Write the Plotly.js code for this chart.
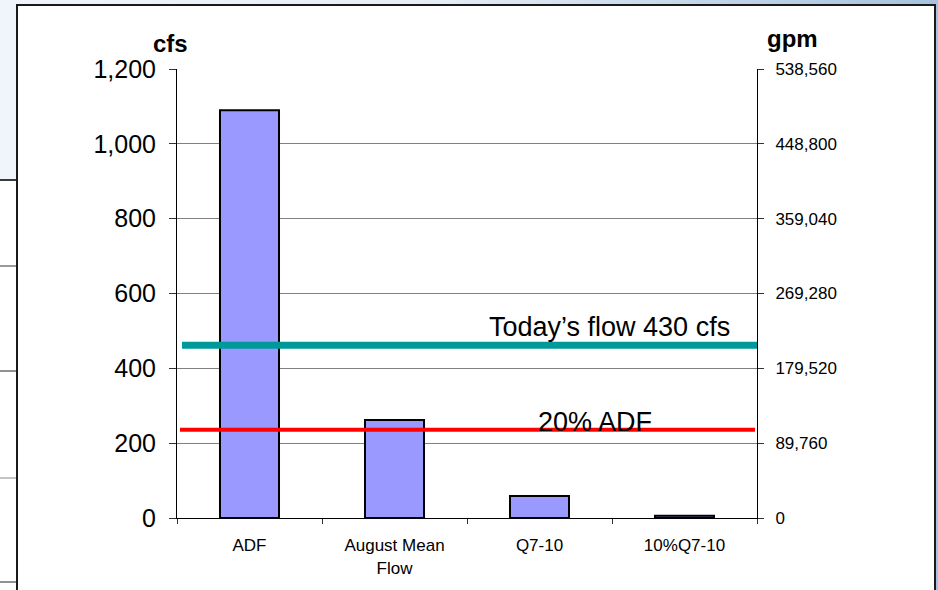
<!DOCTYPE html>
<html>
<head>
<meta charset="utf-8">
<script src="https://cdn.plot.ly/plotly-3.0.1.min.js"></script>
<style>
  html, body { margin: 0; padding: 0; }
  #chart { width: 938px; height: 590px;
    background: linear-gradient(90deg, #f1f5fb 0%, #e6edf5 45%, #c3d6e9 75%, #a6c2dd 100%); }
</style>
</head>
<body>
<div id="chart"></div>
<script>
// ---- data ----
const categories = ["ADF", "August Mean<br>Flow", "Q7-10", "10%Q7-10"];
const flowCfs = [1090, 262, 59, 6];
const todayFlowCfs = 462;      // drawn level of "Today's flow" line
const twentyPctAdfCfs = 236;   // drawn level of "20% ADF" line
const leftTicks = [0, 200, 400, 600, 800, 1000, 1200];
const rightTicks = [0, 89760, 179520, 269280, 359040, 448800, 538560];
const todayLabel = "Today\u2019s flow 430 cfs";
const adfLabel = "20% ADF";

// ---- layout geometry (pixels) ----
const W = 938, H = 590;
const PL = 177, PR = 757, PT = 69, PB = 518;
const px = v => (v - PL) / (PR - PL);
const py = v => (PB - v) / (PB - PT);

const font = "Liberation Sans, Arial, sans-serif";

const traces = [{
  type: "bar",
  x: categories,
  y: flowCfs,
  marker: { color: "#9999ff", line: { color: "#000000", width: 2 } },
  hoverinfo: "skip",
  showlegend: false
}, {
  type: "scatter", mode: "markers",
  x: [categories[0]], y: [0], yaxis: "y2",
  marker: { opacity: 0 }, hoverinfo: "skip", showlegend: false
}];

const leftStripLines = [
  { y: 180, c: "#3a3a3a", w: 2 },
  { y: 266, c: "#9a9a9a", w: 2 },
  { y: 371, c: "#222222", w: 1 },
  { y: 478, c: "#8a8a8a", w: 1 },
  { y: 582, c: "#222222", w: 1 }
];

const shapes = [
  // white slide panel
  { type: "rect", xref: "paper", yref: "paper", layer: "below",
    x0: px(17), x1: px(935), y0: py(600), y1: py(5),
    fillcolor: "#ffffff", line: { color: "#1a1a1a", width: 2 } },
  // white left strip
  { type: "rect", xref: "paper", yref: "paper", layer: "below",
    x0: px(-2), x1: px(16), y0: py(600), y1: py(180),
    fillcolor: "#ffffff", line: { width: 0 } },
  ...leftStripLines.map(l => ({
    type: "line", xref: "paper", yref: "paper", layer: "below",
    x0: px(0), x1: px(16), y0: py(l.y), y1: py(l.y),
    line: { color: l.c, width: l.w } })),
  // reference lines
  { type: "line", xref: "paper", yref: "y", x0: px(182), x1: px(757),
    y0: todayFlowCfs, y1: todayFlowCfs, line: { color: "#009999", width: 7 } },
  { type: "line", xref: "paper", yref: "y", x0: px(180), x1: px(755),
    y0: twentyPctAdfCfs, y1: twentyPctAdfCfs, line: { color: "#ff0000", width: 4 } }
];

const annotations = [
  { xref: "paper", yref: "y", x: px(609), y: todayFlowCfs, yanchor: "bottom",
    xanchor: "center", yshift: 1, showarrow: false, text: todayLabel,
    font: { family: font, size: 27, color: "#000" } },
  { xref: "paper", yref: "y", x: px(595), y: twentyPctAdfCfs, yanchor: "bottom",
    xanchor: "center", yshift: -9, showarrow: false, text: adfLabel,
    font: { family: font, size: 27, color: "#000" } },
  { xref: "paper", yref: "paper", x: px(170), y: py(59), yanchor: "bottom",
    xanchor: "center", showarrow: false, text: "<b>cfs</b>",
    font: { family: font, size: 24, color: "#000" } },
  { xref: "paper", yref: "paper", x: px(792), y: py(54), yanchor: "bottom",
    xanchor: "center", showarrow: false, text: "<b>gpm</b>",
    font: { family: font, size: 24, color: "#000" } }
];

const layout = {
  width: W, height: H,
  margin: { l: PL, r: W - PR, t: PT, b: H - PB, pad: 0 },
  paper_bgcolor: "rgba(0,0,0,0)",
  plot_bgcolor: "#ffffff",
  bargap: 0.593,
  font: { family: font, color: "#000" },
  xaxis: {
    type: "category",
    tickson: "boundaries",
    ticks: "outside", ticklen: 5, tickcolor: "#333",
    showline: true, linecolor: "#000", linewidth: 1,
    showgrid: false,
    tickfont: { family: font, size: 17, color: "#000" },
    ticklabelstandoff: 12,
    fixedrange: true
  },
  yaxis: {
    range: [0, 1200],
    tickvals: leftTicks,
    tickformat: ",d",
    ticks: "outside", ticklen: 7, tickcolor: "#333",
    showline: true, linecolor: "#000", linewidth: 1,
    showgrid: true, gridcolor: "#808080", gridwidth: 1,
    zeroline: false,
    tickfont: { family: font, size: 25, color: "#000" },
    ticklabelstandoff: 8,
    fixedrange: true
  },
  yaxis2: {
    overlaying: "y", side: "right",
    range: [0, 538560],
    tickvals: rightTicks,
    tickformat: ",d",
    ticks: "outside", ticklen: 6, tickcolor: "#333",
    showline: true, linecolor: "#000", linewidth: 1,
    showgrid: false, zeroline: false,
    tickfont: { family: font, size: 17, color: "#000" },
    ticklabelstandoff: 8,
    fixedrange: true
  },
  shapes: shapes,
  annotations: annotations,
  showlegend: false
};

Plotly.newPlot("chart", traces, layout, { displayModeBar: false, staticPlot: true });
</script>
</body>
</html>
